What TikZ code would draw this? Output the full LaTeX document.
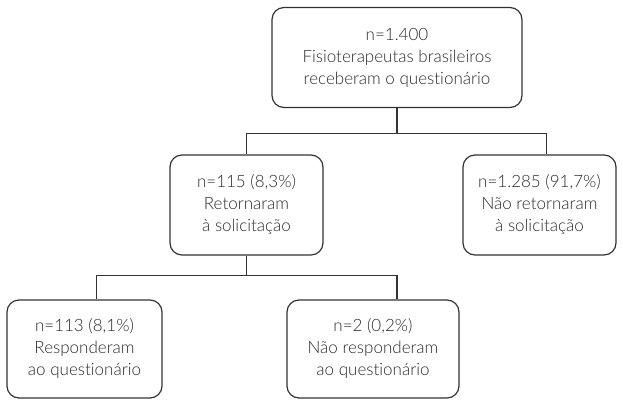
\documentclass[tikz,border=0pt]{standalone}
\usepackage{fontspec}
\setmainfont{Lato}[UprightFont=* Light, Ligatures={NoCommon,NoRare,NoDiscretionary}]
\usetikzlibrary{positioning}

\definecolor{linegray}{HTML}{333333}
\definecolor{textgray}{HTML}{2A2A2A}

\begin{document}
\begin{tikzpicture}[x=1pt, y=-1pt,
        box/.style={draw=linegray, line width=1.2pt, rounded corners=12pt,
            align=center, text=textgray, inner sep=0pt,
            font=\fontsize{17}{22}\selectfont},
        link/.style={draw=linegray, line width=1.2pt}
    ]
            \useasboundingbox (0, 0) rectangle (623, 404);
            \node[box, minimum width=250pt, minimum height=100pt] (todos) at (397, 57.5)
                {n=1.400\\Fisioterapeutas brasileiros\\receberam o questionário};
            \node[box, minimum width=153pt, minimum height=100pt] (retorno) at (246.5, 205)
                {n=115 (8,3\%)\\Retornaram\\à solicitação};
            \node[box, minimum width=153pt, minimum height=100pt] (semretorno) at (539.5, 205)
                {n=1.285 (91,7\%)\\Não retornaram\\à solicitação};
            \node[box, minimum width=155pt, minimum height=98pt] (resp) at (84.5, 349)
                {n=113 (8,1\%)\\Responderam\\ao questionário};
            \node[box, minimum width=172pt, minimum height=98pt] (semresp) at (373, 349)
                {n=2 (0,2\%)\\Não responderam\\ao questionário};
            \draw[link] (todos.south) -- ++(0, 25) -| (retorno.north);
            \draw[link] (todos.south) -- ++(0, 25) -| ([xshift=7pt]semretorno.north);
            \draw[link] (retorno.south) -- ++(0, 20) -| ([xshift=12pt]resp.north);
            \draw[link] (retorno.south) -- ++(0, 20) -| ([xshift=24pt]semresp.north);
        \end{tikzpicture}
\end{document}
